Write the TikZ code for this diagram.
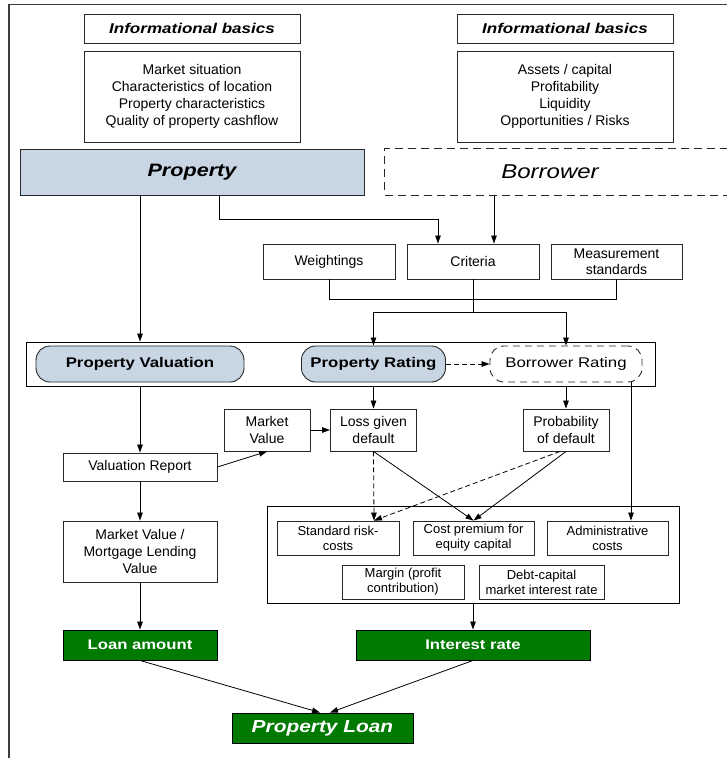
\documentclass[tikz,border=0pt]{standalone}
\usepackage{fontspec}
\setmainfont{Liberation Sans}
\newfontfamily\widefont{Liberation Sans}[FakeStretch=1.2]
\usetikzlibrary{arrows.meta}

\definecolor{propblue}{RGB}{200,213,227}
\definecolor{loangreen}{RGB}{0,122,0}
\definecolor{frameline}{RGB}{60,60,60}
\definecolor{boxline}{RGB}{40,40,40}

\tikzset{
  box/.style={draw=boxline, line width=0.9pt, inner sep=0pt, align=center,
    font=\fontsize{14}{17}\selectfont},
  smallbox/.style={box, font=\fontsize{13}{15}\selectfont},
  critbox/.style={box, font=\fontsize{14}{16}\selectfont},
  titlebox/.style={box, font=\widefont\bfseries\itshape\fontsize{14.2}{17}\selectfont},
  ratingnode/.style={box, rounded corners=14pt, minimum height=36,
    font=\widefont\bfseries\fontsize{14}{17}\selectfont},
  greenbox/.style={box, draw=black, fill=loangreen, text=white, minimum height=30,
    font=\widefont\bfseries\fontsize{13.9}{17}\selectfont},
  groupbox/.style={draw=black, line width=1pt, inner sep=0pt},
  dashbox/.style={draw=boxline, line width=0.9pt, dash pattern=on 8pt off 5pt},
  conn/.style={line width=0.8pt, draw=black},
  arr/.style={conn, -{Triangle[length=8pt,width=5.5pt]}},
  darr/.style={arr, dash pattern=on 5pt off 3pt},
  frame/.style={draw=frameline, line width=1.6pt}
}

\begin{document}
\begin{tikzpicture}[x=1pt,y=-1pt]
\useasboundingbox (0,0) rectangle (727,758);

% outer frame (top and left edges)
\draw[frame] (9,758) -- (9,4.5) -- (727,4.5);

% information sources
\node[titlebox, minimum width=216, minimum height=29] (infoL) at (192,28.5) {Informational basics};
\node[titlebox, minimum width=216, minimum height=29] (infoR) at (565,28.5) {Informational basics};
\node[box, minimum width=216, minimum height=91] (listL) at (192,96.5)
  {Market situation\\Characteristics of location\\Property characteristics\\Quality of property cashflow};
\node[box, minimum width=216, minimum height=91] (listR) at (565,96.5)
  {Assets / capital\\Profitability\\Liquidity\\Opportunities / Risks};

% property and borrower
\node[box, fill=propblue, minimum width=344, minimum height=46,
  font=\widefont\bfseries\itshape\fontsize{18}{21}\selectfont] (property) at (192,172) {Property};
\node[inner sep=0pt, minimum width=343, minimum height=46] (borrower) at (556.5,172) {};
\draw[dashbox] (borrower.north east) -- (borrower.north west) -- (borrower.south west) -- (borrower.south east);
\node[font=\widefont\itshape\fontsize{20}{23}\selectfont, inner sep=0pt] (borrowertext)
  at ([xshift=-6.5pt]borrower.center) {Borrower};

% rating inputs
\node[critbox, minimum width=132, minimum height=35] (weight) at (329,261.5) {Weightings};
\node[critbox, minimum width=132, minimum height=35] (crit) at (473,261.5) {Criteria};
\node[critbox, minimum width=131, minimum height=35] (meas) at (616.5,261.5) {Measurement\\standards};

% valuation and rating row
\node[groupbox, minimum width=629, minimum height=44] (raterow) at (340.5,364) {};
\node[ratingnode, fill=propblue, minimum width=208] (pv) at (140,364) {Property Valuation};
\node[ratingnode, fill=propblue, minimum width=144] (pr) at (373.5,364) {Property Rating};
\node[ratingnode, draw=boxline, dash pattern=on 7pt off 5pt, minimum width=152,
  font=\widefont\fontsize{14}{17}\selectfont] (br) at (566,364) {Borrower Rating};

% intermediate results
\node[box, minimum width=86, minimum height=42] (mv) at (267,430) {Market\\Value};
\node[box, minimum width=86, minimum height=42] (lgd) at (373.5,430) {Loss given\\default};
\node[box, minimum width=86, minimum height=42] (pd) at (566,430) {Probability\\of default};
\node[box, minimum width=154, minimum height=28] (vr) at (140,467) {Valuation Report};
\node[box, minimum width=154, minimum height=61] (mmlv) at (140,551.5) {Market Value /\\Mortgage Lending\\Value};

% interest rate components
\node[groupbox, minimum width=412, minimum height=97] (costs) at (473,554.5) {};
\node[smallbox, minimum width=122, minimum height=34] (src) at (338,538) {Standard risk-\\costs};
\node[smallbox, minimum width=121, minimum height=34] (cpe) at (473.5,538) {Cost premium for\\equity capital};
\node[smallbox, minimum width=121, minimum height=34] (adm) at (607.5,538) {Administrative\\costs};
\node[smallbox, minimum width=122, minimum height=34] (mar) at (403,582) {Margin (profit\\contribution)};
\node[smallbox, minimum width=125, minimum height=34] (debt) at (541.5,582) {Debt-capital\\market interest rate};

% results
\node[greenbox, minimum width=154] (loan) at (140,645) {Loan amount};
\node[greenbox, minimum width=234] (ir) at (473,645) {Interest rate};
\node[greenbox, minimum width=181, font=\widefont\bfseries\itshape\fontsize{17.4}{20}\selectfont]
  (pl) at (322.5,728) {Property Loan};

% connectors: top part
\draw[arr] (pv.north |- property.south) -- (pv.north |- raterow.north);
\draw[arr] ([xshift=27pt]property.south) -- ++(0,24) -| ([xshift=-35pt]crit.north);
\coordinate (bc) at ([xshift=21pt]crit.north);
\draw[arr] (bc |- borrower.south) -- (bc);
\draw[conn] (weight.south) -- ++(0,20) -| (meas.south);
\coordinate (split) at ([yshift=-33pt]crit.south);
\draw[conn] (crit.south) -- (split);
\draw[arr] (split) -| (pr.north);
\draw[arr] (split) -| (br.north);
\draw[darr] (pr.east) -- (br.west);

% connectors: middle part
\draw[arr] (pv.south |- raterow.south) -- (vr.north);
\draw[arr] (pr.south |- raterow.south) -- (lgd.north);
\draw[arr] (br.south |- raterow.south) -- (pd.north);
\coordinate (ac) at ([xshift=23.5pt]adm.north);
\draw[arr] (ac |- br.south) -- (ac);
\draw[arr] (mv.east) -- (lgd.west);
\draw[arr] (vr.east) -- (mv.south);
\draw[arr] (vr.south) -- (mmlv.north);
\coordinate (srcin) at ([xshift=36pt]src.north);
\draw[darr] (lgd.south) -- (srcin);
\draw[darr] ([xshift=-6pt]pd.south) -- (srcin);
\draw[arr] (lgd.south) -- (cpe.north);
\draw[arr] (pd.south) -- (cpe.north);

% connectors: bottom part
\draw[arr] (mmlv.south) -- (loan.north);
\draw[arr] (costs.south) -- (ir.north);
\draw[arr] (loan.south) -- ([xshift=-2.5pt]pl.north);
\draw[arr] (ir.south) -- ([xshift=7.5pt]pl.north);
\end{tikzpicture}
\end{document}
